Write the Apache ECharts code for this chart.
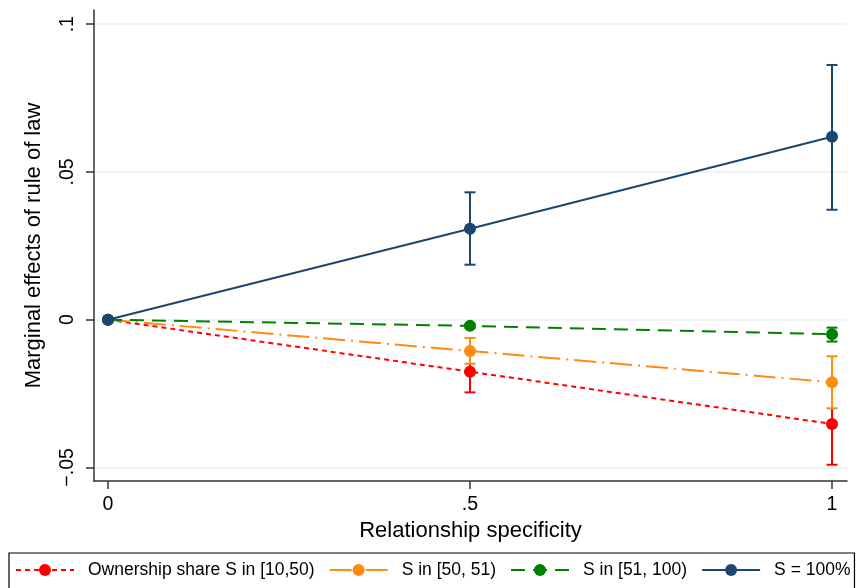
<!DOCTYPE html>
<html>
<head>
<meta charset="utf-8">
<script src="https://cdn.jsdelivr.net/npm/echarts@6/dist/echarts.min.js"></script>
<style>html,body{margin:0;padding:0;background:#fff}#c{width:857px;height:588px}</style>
</head>
<body>
<div id="c"></div>
<script>
var xValues = [0, 0.5, 1];
var xTicks = [0, 0.5, 1];
var yTicks = [-0.05, 0, 0.05, 0.1];
var seriesNames = ['Ownership share S in [10,50)', 'S in [50, 51)', 'S in [51, 100)', 'S = 100%'];
var redEst = [0, -0.0176, -0.0353];
var redLo = [0, -0.0246, -0.0491];
var redHi = [0, -0.0106, -0.0215];
var orangeEst = [0, -0.0106, -0.0212];
var orangeLo = [0, -0.0149, -0.0300];
var orangeHi = [0, -0.0062, -0.0124];
var greenEst = [0, -0.0021, -0.0049];
var greenLo = [0, -0.0028, -0.0074];
var greenHi = [0, -0.0014, -0.0027];
var navyEst = [0, 0.0308, 0.0619];
var navyLo = [0, 0.0186, 0.0372];
var navyHi = [0, 0.0431, 0.0862];

var colors = ['#ff0000', '#ff8c0f', '#008000', '#1a476f'];
var dashes = [[5, 4], [22, 6, 2, 6], [14, 8], 'solid'];
var ests = [redEst, orangeEst, greenEst, navyEst];
var los = [redLo, orangeLo, greenLo, navyLo];
var his = [redHi, orangeHi, greenHi, navyHi];
var FONT = 'Liberation Sans, Arial, sans-serif';

var series = [];
for (var i = 0; i < 4; i++) {
  (function (i) {
    var errData = [];
    for (var k = 0; k < xValues.length; k++) {
      if (los[i][k] !== his[i][k]) errData.push([xValues[k], los[i][k], his[i][k]]);
    }
    series.push({
      type: 'custom',
      name: seriesNames[i] + ' CI',
      z: 3 + i * 2,
      silent: true,
      data: errData,
      renderItem: function (params, api) {
        var lo = api.coord([api.value(0), api.value(1)]);
        var hi = api.coord([api.value(0), api.value(2)]);
        var hw = 5.5;
        var st = { stroke: colors[i], lineWidth: 2 };
        return {
          type: 'group',
          children: [
            { type: 'line', shape: { x1: lo[0], y1: lo[1], x2: hi[0], y2: hi[1] }, style: st },
            { type: 'line', shape: { x1: lo[0] - hw, y1: lo[1], x2: lo[0] + hw, y2: lo[1] }, style: st },
            { type: 'line', shape: { x1: hi[0] - hw, y1: hi[1], x2: hi[0] + hw, y2: hi[1] }, style: st }
          ]
        };
      }
    });
    var d = [];
    for (var k = 0; k < xValues.length; k++) d.push([xValues[k], ests[i][k]]);
    series.push({
      type: 'line',
      name: seriesNames[i],
      z: 4 + i * 2,
      data: d,
      symbol: 'circle',
      symbolSize: 12,
      showSymbol: true,
      color: colors[i],
      itemStyle: { color: colors[i], borderWidth: 0 },
      lineStyle: { color: colors[i], width: 2, type: dashes[i] },
      emphasis: { disabled: true },
      animation: false
    });
  })(i);
}

var chart = echarts.init(document.getElementById('c'), null, { renderer: 'canvas' });
chart.setOption({
  animation: false,
  backgroundColor: '#ffffff',
  textStyle: { fontFamily: FONT },
  grid: { left: 94, right: 10, top: 10, bottom: 107, containLabel: false },
  xAxis: {
    type: 'value',
    min: -0.0193,
    max: 1.0207,
    name: 'Relationship specificity',
    nameLocation: 'middle',
    nameGap: 32,
    nameTextStyle: { fontSize: 22, color: '#000', fontFamily: FONT },
    axisLine: { show: true, onZero: false, lineStyle: { color: '#333', width: 1.5 } },
    axisTick: { show: true, length: 8, inside: false, lineStyle: { color: '#333', width: 1.5 }, customValues: xTicks },
    axisLabel: {
      customValues: xTicks, fontSize: 19.5, color: '#000', margin: 14, fontFamily: FONT,
      formatter: function (v) { return v === 0 ? '0' : (Math.abs(v) < 1 ? String(v).replace('0.', '.') : String(v)); }
    },
    splitLine: { show: false }
  },
  yAxis: {
    type: 'value',
    min: -0.0546,
    max: 0.1048,
    name: 'Marginal effects of rule of law',
    nameLocation: 'middle',
    nameGap: 49,
    nameRotate: 90,
    nameTextStyle: { fontSize: 22, color: '#000', fontFamily: FONT },
    axisLine: { show: true, onZero: false, lineStyle: { color: '#333', width: 1.5 } },
    axisTick: { show: true, length: 8, lineStyle: { color: '#333', width: 1.5 }, customValues: yTicks },
    axisLabel: {
      customValues: yTicks, fontSize: 19.5, color: '#000', margin: 16, rotate: 90, fontFamily: FONT,
      formatter: function (v) {
        if (v === 0) return '0';
        var s = String(v);
        return s.replace('-0.', '\u2212.').replace('0.', '.');
      }
    },
    splitLine: { show: true, lineStyle: { color: '#eaf2f3', width: 1.5 } }
  },
  legend: {
    data: seriesNames,
    left: 9,
    top: 553,
    width: 900,
    padding: [8, 4, 20, 6],
    itemGap: 14,
    itemWidth: 58,
    itemHeight: 15,
    borderColor: '#000',
    borderWidth: 1.2,
    borderRadius: 0,
    textStyle: { fontSize: 17.5, color: '#000', fontFamily: FONT, padding: [0, 0, 0, 9] },
    selectedMode: false
  },
  series: series
});
</script>
</body>
</html>
